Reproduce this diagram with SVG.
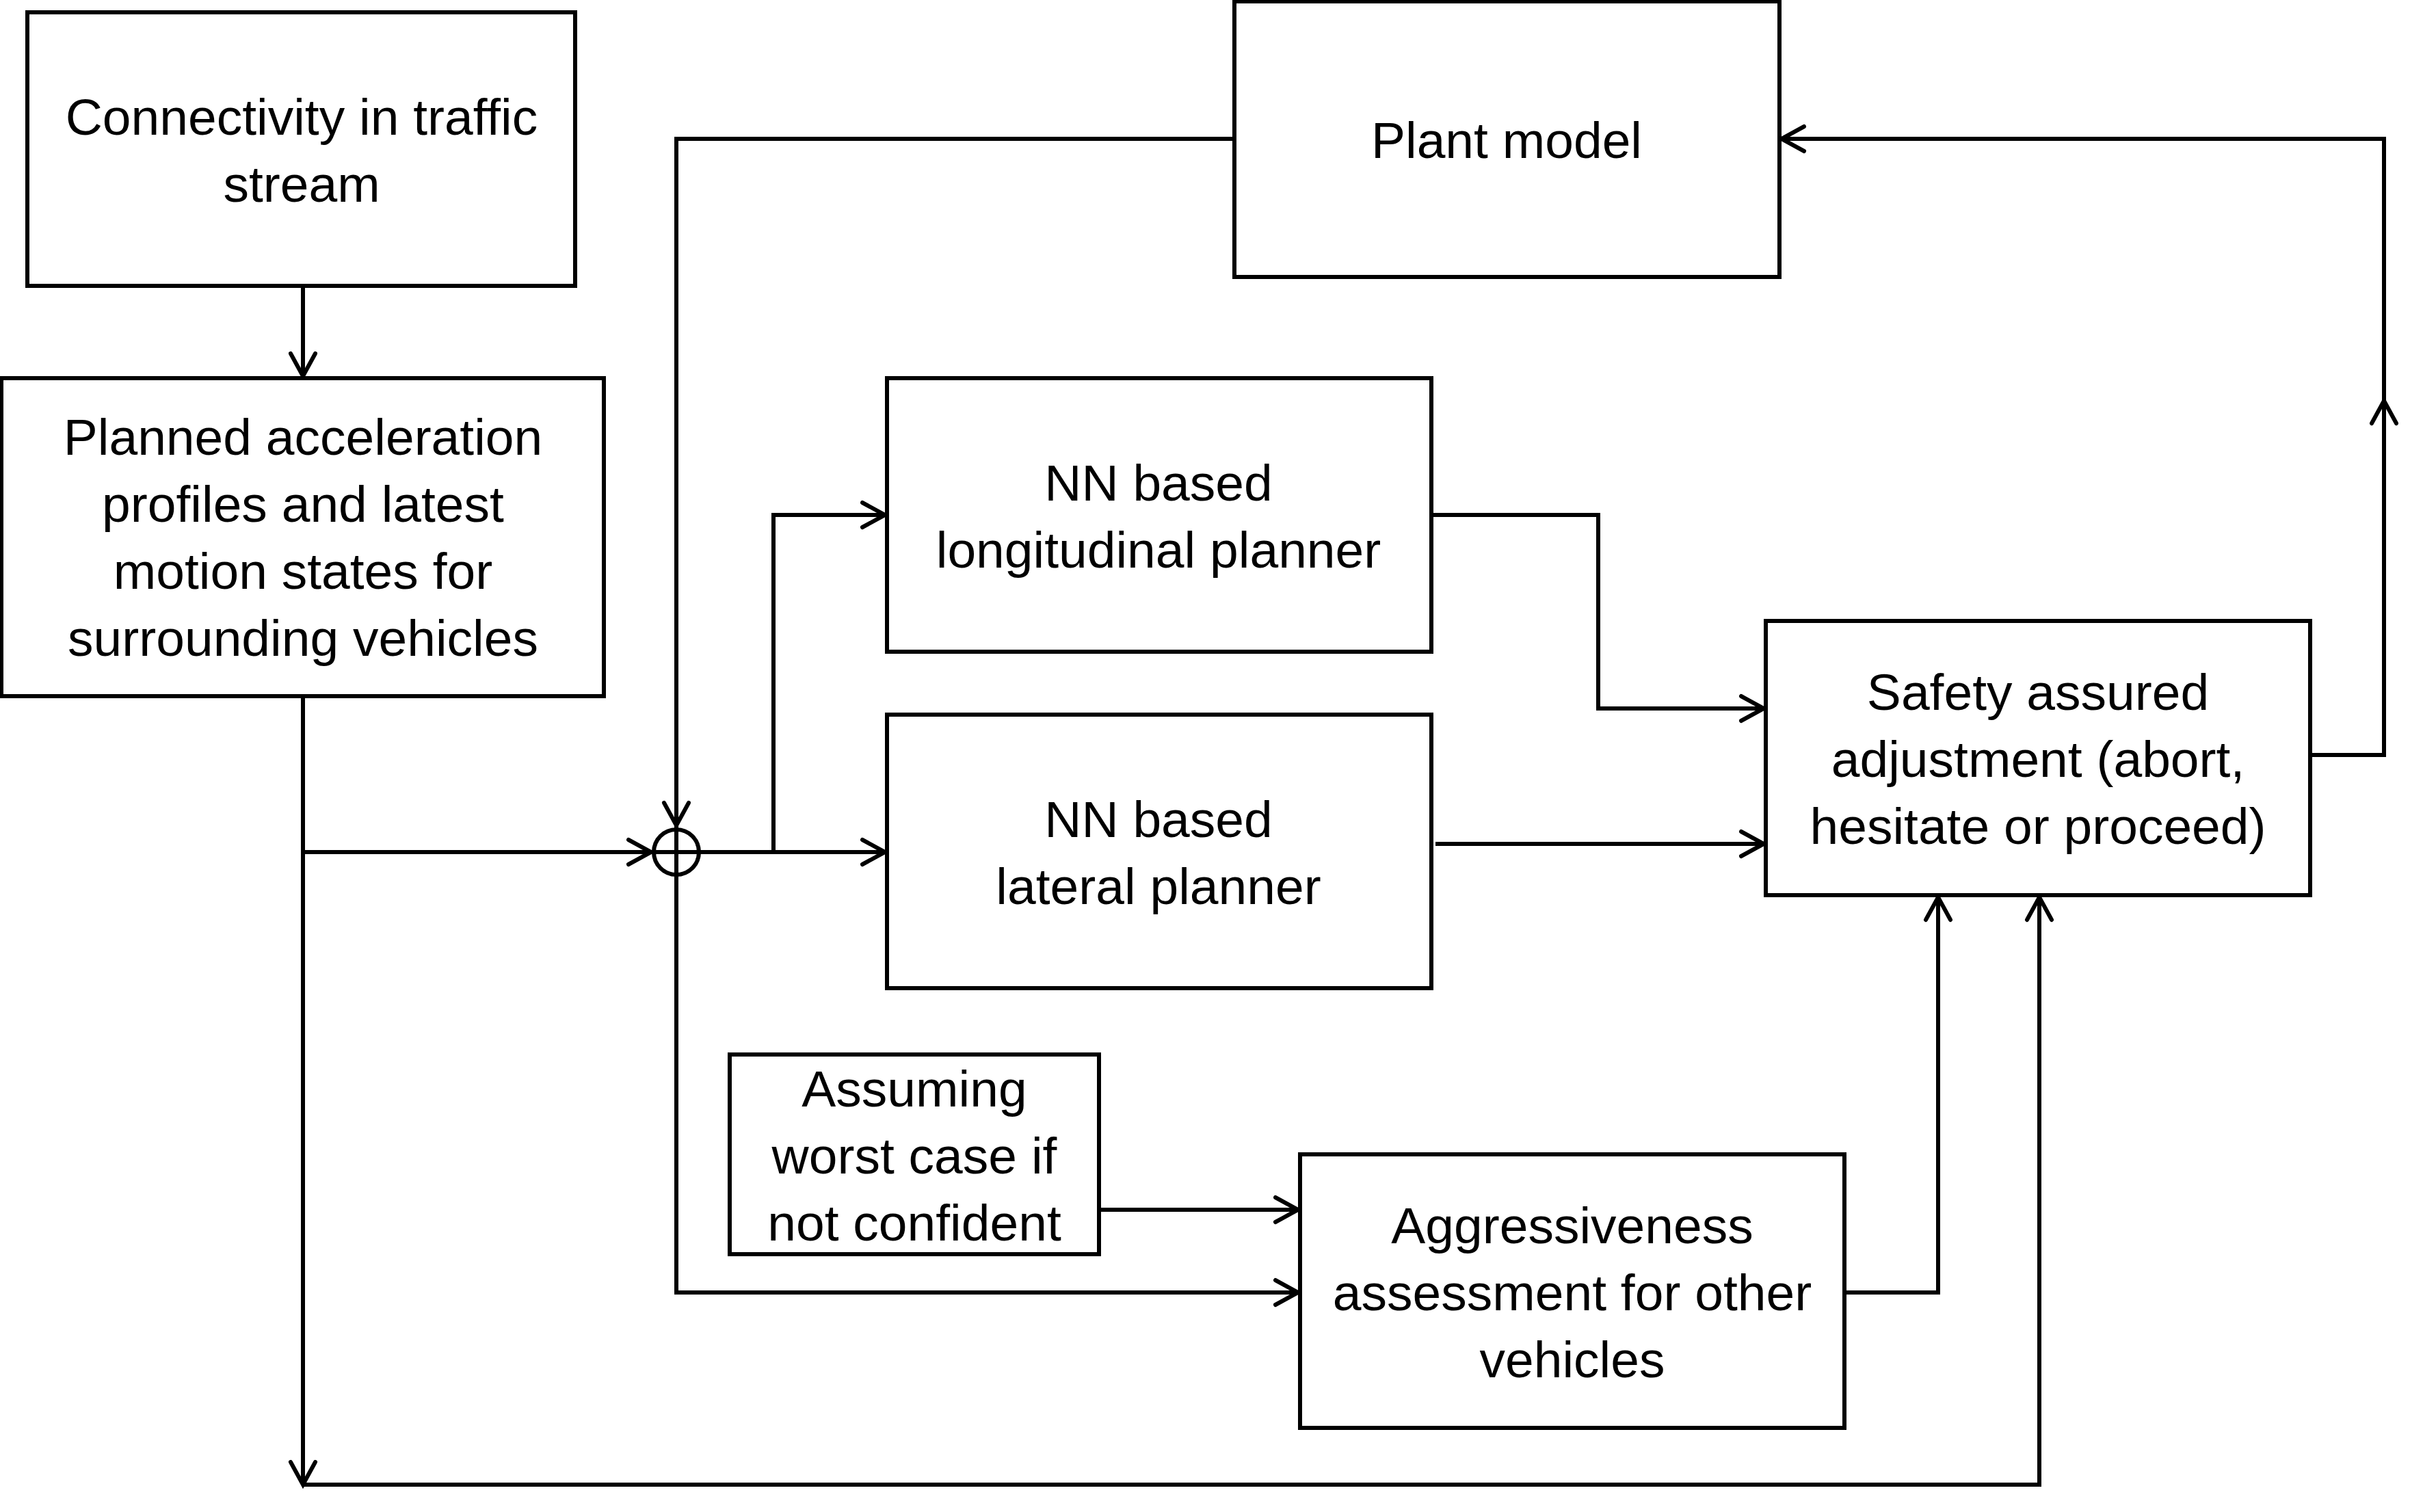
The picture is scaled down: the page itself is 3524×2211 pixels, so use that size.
<svg xmlns="http://www.w3.org/2000/svg" width="3524" height="2211" viewBox="0 0 3524 2211">
<style>
.box{fill:#fff;stroke:#000;stroke-width:6}
.lbl{font-family:"Liberation Sans",Arial,sans-serif;font-size:75px;fill:#000;text-anchor:middle}
.con{fill:none;stroke:#000;stroke-width:6;stroke-linejoin:miter}
</style>
<defs>
<marker id="arr" markerUnits="userSpaceOnUse" markerWidth="50" markerHeight="50" viewBox="-40 -25 50 50" refX="0" refY="0" orient="auto">
<path d="M-33,-18 L0,0 L-33,18" fill="none" stroke="#000" stroke-width="6" stroke-linecap="round" stroke-linejoin="miter"/>
</marker>
</defs>
<rect width="3524" height="2211" fill="#fff"/>
<g id="connectors">
<path class="con" d="M443,418 V550" marker-end="url(#arr)"/>
<path class="con" d="M443,1018 V2171" marker-end="url(#arr)"/>
<path class="con" d="M443,2171 H2982 V1312" marker-end="url(#arr)"/>
<path class="con" d="M443,1246 H952" marker-end="url(#arr)"/>
<path class="con" d="M1805,203 H989 V1207" marker-end="url(#arr)"/>
<path class="con" d="M989,1208 V1890 H1898" marker-end="url(#arr)"/>
<path class="con" d="M953,1246 H1294" marker-end="url(#arr)"/>
<path class="con" d="M1131,1246 V753 H1294" marker-end="url(#arr)"/>
<path class="con" d="M2093,753 H2337 V1036 H2579" marker-end="url(#arr)"/>
<path class="con" d="M2099,1234 H2579" marker-end="url(#arr)"/>
<path class="con" d="M1607,1769 H1898" marker-end="url(#arr)"/>
<path class="con" d="M2697,1890 H2834 V1312" marker-end="url(#arr)"/>
<path class="con" d="M3378,1104 H3486 V203 H2605" marker-end="url(#arr)"/>
<path class="con" d="M3486,700 V586" marker-end="url(#arr)"/>
<circle class="con" cx="989" cy="1246" r="33"/>
</g>
<g id="n1"><rect class="box" x="40" y="18" width="801" height="400"/>
<text class="lbl" x="441" y="197">Connectivity in traffic</text>
<text class="lbl" x="441" y="295">stream</text></g>
<g id="n2"><rect class="box" x="2" y="553" width="881" height="465"/>
<text class="lbl" x="443" y="665">Planned acceleration</text>
<text class="lbl" x="443" y="763">profiles and latest</text>
<text class="lbl" x="443" y="861">motion states for</text>
<text class="lbl" x="443" y="959">surrounding vehicles</text></g>
<g id="n3"><rect class="box" x="1805" y="2" width="797" height="403"/>
<text class="lbl" x="2203" y="231">Plant model</text></g>
<g id="n4"><rect class="box" x="1297" y="553" width="796" height="400"/>
<text class="lbl" x="1694" y="732">NN based</text>
<text class="lbl" x="1694" y="830">longitudinal planner</text></g>
<g id="n5"><rect class="box" x="1297" y="1045" width="796" height="400"/>
<text class="lbl" x="1694" y="1224">NN based</text>
<text class="lbl" x="1694" y="1322">lateral planner</text></g>
<g id="n6"><rect class="box" x="2582" y="908" width="796" height="401"/>
<text class="lbl" x="2980" y="1038">Safety assured</text>
<text class="lbl" x="2980" y="1136">adjustment (abort,</text>
<text class="lbl" x="2980" y="1234">hesitate or proceed)</text></g>
<g id="n7"><rect class="box" x="1067" y="1542" width="540" height="292"/>
<text class="lbl" x="1337" y="1618">Assuming</text>
<text class="lbl" x="1337" y="1716">worst case if</text>
<text class="lbl" x="1337" y="1814">not confident</text></g>
<g id="n8"><rect class="box" x="1901" y="1688" width="796" height="400"/>
<text class="lbl" x="2299" y="1818">Aggressiveness</text>
<text class="lbl" x="2299" y="1916">assessment for other</text>
<text class="lbl" x="2299" y="2014">vehicles</text></g>
</svg>
